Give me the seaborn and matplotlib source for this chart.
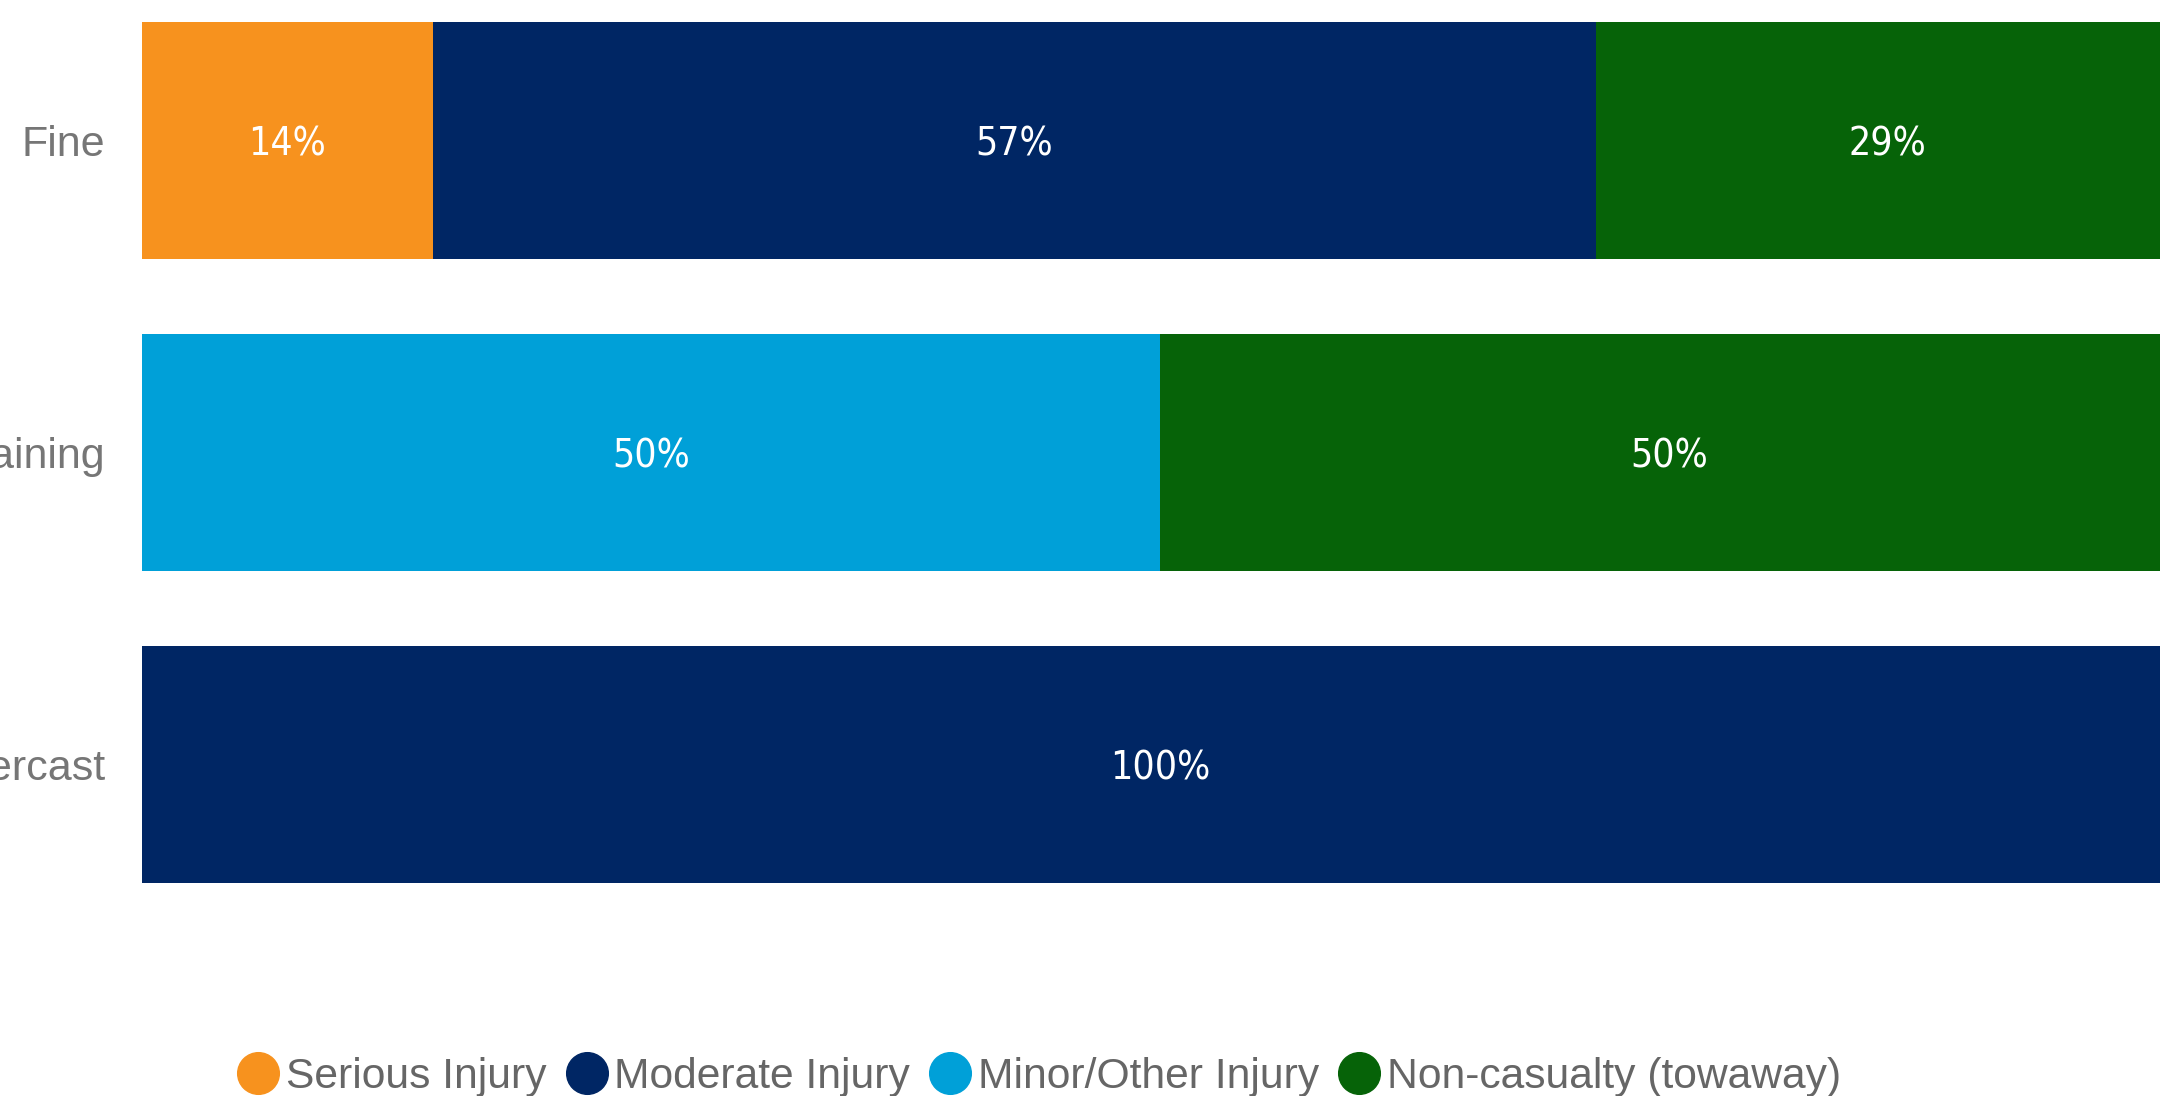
import matplotlib
matplotlib.use("Agg")
import matplotlib.pyplot as plt
from matplotlib.lines import Line2D
import seaborn as sns
import pandas as pd
import numpy as np

categories = ["Fine", "Raining", "Overcast"]
series_names = ["Serious Injury", "Moderate Injury", "Minor/Other Injury", "Non-casualty (towaway)"]
serious = [1 / 7 * 100, 0, 0]
moderate = [4 / 7 * 100, 0, 100]
minor = [0, 50, 0]
noncasualty = [2 / 7 * 100, 50, 0]
colors = ["#F7921E", "#002664", "#00A0D8", "#066308"]

sns.set_theme(style="white")
plt.rcParams['font.family'] = ['Liberation Sans', 'DejaVu Sans']

W, H = 2160, 1096
fig = plt.figure(figsize=(W / 100, H / 100), dpi=100)
ax = fig.add_axes([142 / W, 0, 2036 / W, 1])

values = [serious, moderate, minor, noncasualty]
cum = np.cumsum(np.array(values, dtype=float), axis=0)

# draw from the outermost cumulative layer to innermost
for i in range(len(values) - 1, -1, -1):
    df = pd.DataFrame({"cat": categories, "val": cum[i]})
    sns.barplot(data=df, x="val", y="cat", orient="h", color=colors[i],
                width=0.76, saturation=1, ax=ax, order=categories,
                linewidth=0, edgecolor="none")

# labels
for i in range(len(values)):
    for j, cat in enumerate(categories):
        v = values[i][j]
        if v <= 0:
            continue
        start = cum[i][j] - v
        ax.text(start + v / 2, j, f"{v:.0f}%", ha="center", va="center_baseline",
                color="white", fontsize=28, family="DejaVu Sans",
                fontstretch="condensed")

ax.set_xlim(0, 100)
ax.set_ylim(2 + (H - 764.5) / 312, -140.5 / 312)
ax.set_xlabel("")
ax.set_ylabel("")
ax.set_xticks([])
for s in ax.spines.values():
    s.set_visible(False)
ax.tick_params(axis="y", length=0, pad=26.5, labelsize=31, labelcolor="#767676")
for t in ax.get_yticklabels():
    t.set_verticalalignment("center_baseline")

handles = [Line2D([0], [0], marker="o", linestyle="", markersize=30,
                  markerfacecolor=c, markeredgecolor=c) for c in colors]
fig.legend(handles, series_names, loc="center", ncol=4, frameon=False,
           bbox_to_anchor=(1040 / W, 1 - 1077 / H), fontsize=30.7,
           labelcolor="#666666", handlelength=0.9, handletextpad=0.19,
           columnspacing=0.5, borderaxespad=0)

fig.savefig("out.png", dpi=100)
